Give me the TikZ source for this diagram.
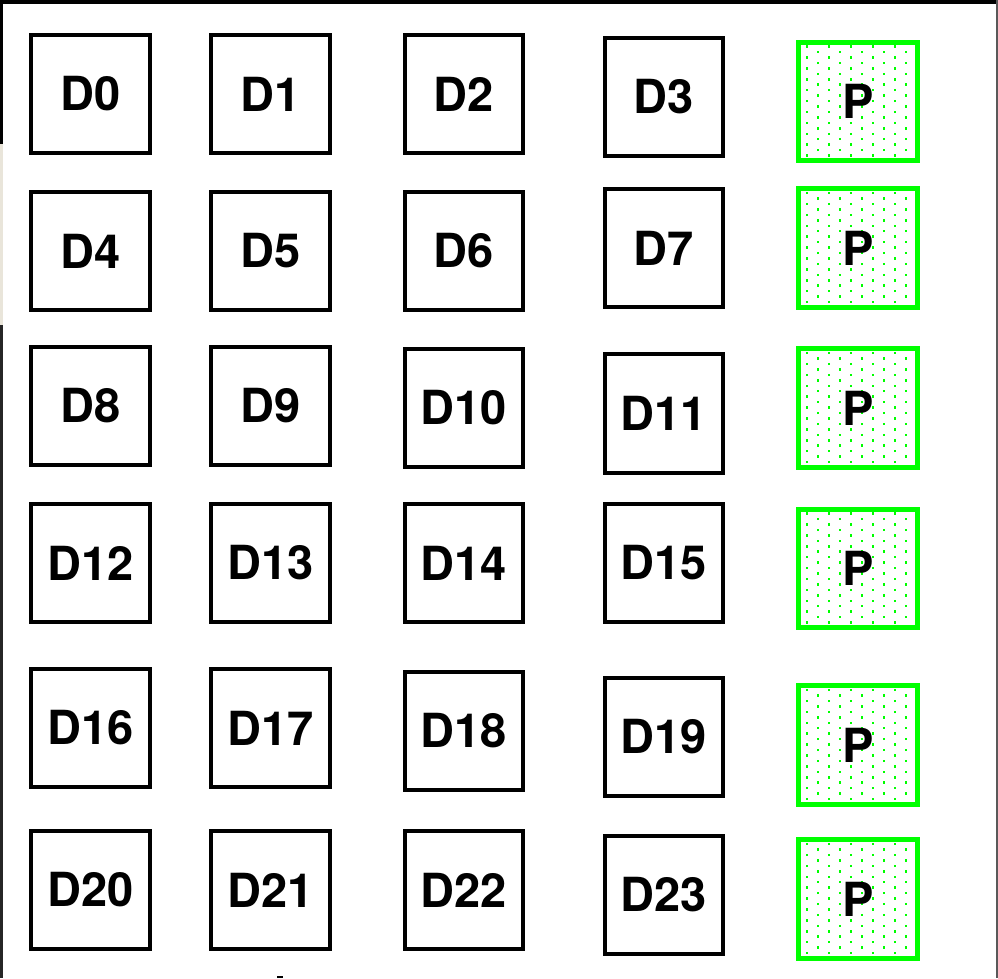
\documentclass[tikz,border=0pt]{standalone}
\usepackage{fontspec}
\setmainfont{TeX Gyre Heros}
\usetikzlibrary{backgrounds}
\definecolor{pgreen}{RGB}{0,255,0}
\definecolor{frameleft}{RGB}{233,229,218}
\begin{document}
\begin{tikzpicture}[x=1pt,y=-1pt,
  dbox/.style={draw=black,line width=4.4pt,minimum width=118.5pt,minimum height=118.5pt,
    inner sep=0pt,font=\fontsize{47}{47}\selectfont\bfseries},
  pbox/.style={dbox,draw=pgreen,line width=4.6pt},
  dotmark/.style={fill=pgreen}]
\useasboundingbox (0,0) rectangle (998,978);
% column 0
\node[dbox] (d0)  at (90.5,94)  {D0};
\node[dbox] (d4)  at (90.5,251) {D4};
\node[dbox] (d8)  at (90.5,406) {D8};
\node[dbox] (d12) at (90.5,563) {D12};
\node[dbox] (d16) at (90.5,728) {D16};
\node[dbox] (d20) at (90.5,890) {D20};
% column 1
\node[dbox] (d1)  at (270.5,94)  {D1};
\node[dbox] (d5)  at (270.5,251) {D5};
\node[dbox] (d9)  at (270.5,406) {D9};
\node[dbox] (d13) at (270.5,563) {D13};
\node[dbox] (d17) at (270.5,728) {D17};
\node[dbox] (d21) at (270.5,890) {D21};
% column 2
\node[dbox] (d2)  at (464,94)  {D2};
\node[dbox] (d6)  at (464,251) {D6};
\node[dbox] (d10) at (464,408) {D10};
\node[dbox] (d14) at (464,563) {D14};
\node[dbox] (d18) at (464,731) {D18};
\node[dbox] (d22) at (464,890) {D22};
% column 3
\node[dbox] (d3)  at (664,97)    {D3};
\node[dbox] (d7)  at (664,248)   {D7};
\node[dbox] (d11) at (664,413.5) {D11};
\node[dbox] (d15) at (664,563)   {D15};
\node[dbox] (d19) at (664,737)   {D19};
\node[dbox] (d23) at (664,895)   {D23};
% column 4 (parity)
\node[pbox] (p0) at (858,101.5) {P};
\node[pbox] (p1) at (858,248)   {P};
\node[pbox] (p2) at (858,408)   {P};
\node[pbox] (p3) at (858,568.5) {P};
\node[pbox] (p4) at (858,745)   {P};
\node[pbox] (p5) at (858,899)   {P};
\begin{pgfonlayer}{background}
  \fill[white] (0,0) rectangle (998,978);
  \foreach \n in {p0,p1,p2,p3,p4,p5} {
    \foreach \i in {0,...,9} {
      \foreach \j in {0,...,20} {
        \pgfmathtruncatemacro{\parity}{mod(\i+\j,2)}
        \ifnum\parity=0
          \fill[dotmark] ([shift={(-52.2+11*\i,-56.2+5.45*\j)}]\n.center) rectangle ++(2.5,2.5);
        \fi
      }
    }
  }
\end{pgfonlayer}
% window frame
\fill[black] (0,0) rectangle (996,4);
\fill[black] (0,0) rectangle (3,144);
\fill[frameleft] (0,144) rectangle (2.5,325);
\fill[black!85] (0,325) rectangle (2.5,978);
\fill[black!65] (996,0) rectangle (997.5,978);
\fill[black] (277,976) rectangle (283,978);
\end{tikzpicture}
\end{document}
